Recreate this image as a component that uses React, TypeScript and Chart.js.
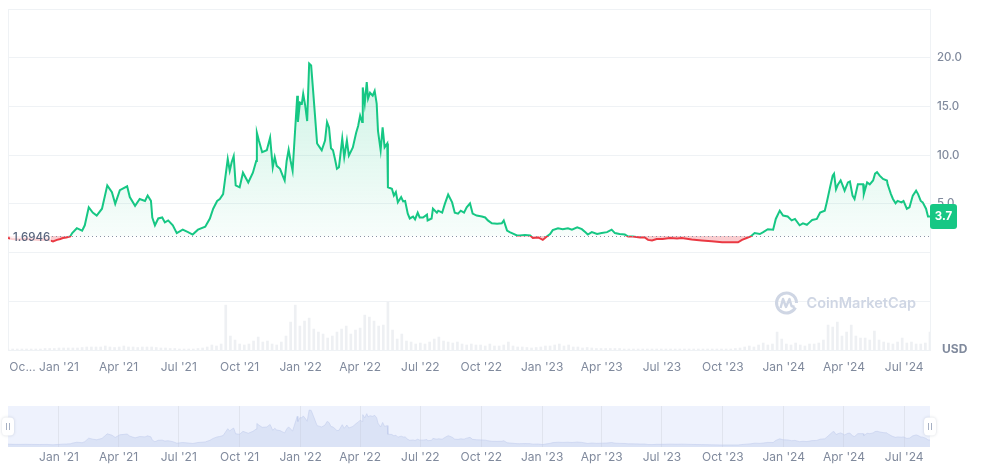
import { useEffect, useRef } from 'react';
import { Chart, registerables } from 'chart.js';

Chart.register(...registerables);

// ---------------- data ----------------
const START_DATE = '2020-10-16'; // day 0 of the series
const BASE_PRICE = 1.6946; // opening price of the period (reference line)
const CURRENCY = 'USD';
const BRAND = 'CoinMarketCap';

// [day offset from START_DATE, price in USD]
const pricePoints: [number, number][] = [
  [0, 1.5], [6, 1.4], [15, 1.35], [26, 1.4], [36, 1.35], [48, 1.3], [59, 1.35], [68, 1.15], [74, 1.3],
  [79, 1.4], [83, 1.5], [88, 1.55], [94, 1.65], [97, 2.0], [104, 2.5], [112, 2.25], [116, 2.8],
  [122, 4.65], [128, 4.1], [134, 3.8], [142, 4.5], [150, 6.9], [157, 6.2], [162, 5.0], [169, 6.4],
  [180, 6.8], [184, 5.7], [192, 4.8], [199, 5.5], [207, 5.3], [211, 5.85], [216, 5.3], [218, 3.6],
  [222, 2.8], [227, 3.5], [233, 3.6], [237, 3.1], [242, 3.3], [249, 2.8], [255, 2.0], [264, 2.35],
  [272, 2.1], [279, 1.85], [287, 2.35], [298, 2.65], [305, 3.5], [310, 4.5], [316, 5.3], [320, 5.5],
  [325, 6.0], [332, 9.6], [335, 8.4], [338, 9.3], [341, 9.9], [344, 6.9], [350, 6.7], [355, 8.2],
  [363, 7.2], [370, 8.2], [375, 9.4], [376, 12.3], [379, 11.5], [384, 10.3], [391, 10.5], [396, 11.8],
  [400, 8.75], [403, 9.8], [406, 8.9], [411, 8.6], [415, 7.9], [418, 7.4], [421, 9.4], [424, 10.55],
  [427, 9.4], [430, 8.4], [437, 16.1], [438, 13.4], [441, 15.4], [444, 15.3], [446, 16.3], [449, 15.1],
  [452, 13.5], [455, 19.4], [458, 19.2], [461, 16.6], [464, 13.9], [467, 11.2], [471, 10.8], [474, 10.5],
  [479, 11.5], [482, 13.4], [485, 12.85], [488, 10.7], [491, 10.5], [494, 9.6], [497, 8.6], [500, 8.75],
  [505, 11.7], [508, 9.8], [512, 11.5], [515, 9.95], [521, 10.8], [526, 12.3], [529, 13.0], [532, 14.05],
  [535, 13.4], [536, 16.95], [539, 15.3], [542, 17.5], [544, 15.8], [547, 16.4], [551, 16.1], [554, 16.6],
  [557, 15.3], [559, 12.5], [563, 10.5], [566, 12.85], [569, 10.8], [573, 11.2], [574, 6.7], [580, 6.55],
  [583, 5.85], [586, 6.2], [589, 5.15], [594, 5.7], [597, 5.25], [600, 5.3], [604, 4.0], [607, 3.5],
  [612, 3.7], [615, 3.4], [619, 4.1], [622, 3.6], [627, 3.6], [633, 3.9], [634, 3.3], [640, 3.5],
  [642, 4.5], [648, 4.1], [650, 4.3], [656, 4.1], [660, 5.0], [665, 5.95], [671, 5.15], [675, 4.1],
  [680, 4.0], [684, 4.3], [689, 4.1], [693, 4.65], [698, 5.05], [702, 4.0], [708, 3.8], [716, 3.7],
  [721, 3.6], [725, 3.3], [731, 3.0], [739, 2.95], [746, 3.0], [749, 3.3], [754, 2.25], [758, 2.1],
  [763, 1.95], [769, 1.75], [773, 1.75], [781, 1.8], [789, 1.75], [793, 1.5], [801, 1.55], [808, 1.3],
  [814, 1.65], [819, 1.9], [823, 2.3], [831, 2.5], [838, 2.4], [846, 2.5], [852, 2.35], [860, 2.6],
  [867, 2.4], [872, 2.1], [876, 1.85], [882, 2.1], [890, 1.9], [897, 2.0], [905, 2.1], [912, 2.35],
  [917, 2.0], [924, 1.9], [932, 1.85], [937, 1.65], [944, 1.65], [955, 1.55], [962, 1.55], [967, 1.3],
  [973, 1.25], [980, 1.4], [989, 1.4], [1000, 1.5], [1011, 1.45], [1018, 1.5], [1033, 1.35], [1048, 1.25],
  [1063, 1.15], [1079, 1.05], [1094, 1.05], [1103, 1.05], [1109, 1.3], [1116, 1.5], [1122, 1.65],
  [1128, 2.0], [1136, 1.9], [1141, 2.1], [1148, 2.4], [1156, 2.35], [1160, 3.45], [1166, 4.3], [1171, 3.8],
  [1178, 3.7], [1184, 3.3], [1189, 3.45], [1196, 2.8], [1201, 3.0], [1207, 2.85], [1211, 3.1], [1215, 3.35],
  [1222, 3.45], [1227, 4.1], [1234, 4.3], [1237, 5.15], [1242, 6.7], [1246, 7.9], [1248, 8.1], [1251, 6.5],
  [1254, 7.0], [1258, 7.4], [1261, 6.9], [1264, 6.35], [1269, 7.2], [1272, 7.3], [1276, 5.85], [1279, 5.5],
  [1284, 7.0], [1292, 7.0], [1293, 6.0], [1298, 7.2], [1302, 7.0], [1307, 7.4], [1310, 8.1], [1313, 8.25],
  [1317, 7.9], [1322, 7.55], [1328, 7.4], [1329, 7.0], [1334, 6.0], [1337, 5.5], [1341, 5.05], [1344, 5.3],
  [1350, 5.15], [1353, 5.3], [1358, 4.5], [1362, 4.65], [1367, 5.85], [1372, 6.35], [1375, 6.0], [1379, 5.3],
  [1382, 5.15], [1387, 4.5], [1390, 3.7], [1393, 3.7],
];

// weekly trading volume (million USD), one value per week from START_DATE
const VOLUME_STEP_DAYS = 7;
const volumes: number[] = [
  20, 20, 20, 20, 20, 20, 20, 20, 30, 30, 30, 40, 40, 40, 40, 40, 50, 60, 60, 60,
  60, 80, 60, 50, 60, 80, 60, 60, 50, 60, 60, 60, 50, 40, 40, 30, 30, 20, 20, 20,
  20, 30, 40, 60, 100, 80, 120, 900, 280, 200, 120, 100, 120, 180, 260, 160, 180, 120, 100, 160,
  280, 560, 900, 480, 580, 640, 420, 360, 320, 240, 280, 360, 420, 480, 320, 400, 440, 700, 660, 580,
  480, 500, 960, 400, 220, 320, 180, 160, 120, 140, 120, 160, 220, 260, 180, 160, 140, 160, 120, 100,
  120, 100, 100, 80, 120, 80, 80, 100, 160, 80, 60, 60, 50, 40, 50, 60, 80, 80, 100, 120,
  80, 100, 60, 60, 40, 50, 40, 30, 30, 30, 30, 30, 30, 20, 20, 20, 20, 20, 20, 20,
  20, 20, 20, 20, 20, 20, 20, 20, 20, 20, 20, 20, 20, 20, 20, 20, 20, 30, 40, 60,
  80, 60, 100, 140, 100, 120, 360, 220, 120, 100, 140, 100, 80, 120, 120, 140, 200, 500, 460, 560,
  280, 360, 500, 280, 240, 240, 200, 380, 200, 160, 140, 120, 160, 240, 140, 160, 120, 120, 140, 360,
];

const tickDates = [
  '2021-01-01', '2021-04-01', '2021-07-01', '2021-10-01', '2022-01-01', '2022-04-01', '2022-07-01',
  '2022-10-01', '2023-01-01', '2023-04-01', '2023-07-01', '2023-10-01', '2024-01-01', '2024-04-01',
  '2024-07-01',
];
const tickLabels = [
  "Jan '21", "Apr '21", "Jul '21", "Oct '21", "Jan '22", "Apr '22", "Jul '22", "Oct '22",
  "Jan '23", "Apr '23", "Jul '23", "Oct '23", "Jan '24", "Apr '24", "Jul '24",
];
const FIRST_LABEL = 'Oc...';
const FIRST_LABEL_DATE = '2020-11-07';

// ---------------- styling ----------------
const GREEN = '#16c784';
const RED = '#ea3943';
const GRID = '#eff2f5';
const TEXT = '#808a9d';
const FONT = "Inter, 'Noto Sans', sans-serif";

function dayOf(date: string) {
  return Math.round((Date.parse(date) - Date.parse(START_DATE)) / 86400000);
}

const noPadY = (s: any) => {
  s.paddingTop = 0;
  s.paddingBottom = 0;
};
const noPadX = (s: any) => {
  s.paddingLeft = 0;
  s.paddingRight = 0;
};

export default function App() {
  const mainRef = useRef<HTMLCanvasElement>(null);
  const navRef = useRef<HTMLCanvasElement>(null);

  useEffect(() => {
    Chart.defaults.font.family = FONT;
    const lastDay = pricePoints[pricePoints.length - 1][0];
    const lastPrice = pricePoints[pricePoints.length - 1][1];
    const tickDays = tickDates.map(dayOf);
    const mainTickDays = [dayOf(FIRST_LABEL_DATE), ...tickDays];
    const mainTickLabels = [FIRST_LABEL, ...tickLabels];
    const priceData = pricePoints.map(([x, y]) => ({ x, y }));
    const volumeData = volumes.map((v, i) => ({ x: i * VOLUME_STEP_DAYS, y: v }));

    const lineColor = (ctx: any) => {
      const chart = ctx.chart;
      const area = chart.chartArea;
      if (!area) return GREEN;
      const yb = chart.scales.y.getPixelForValue(BASE_PRICE);
      const f = Math.min(1, Math.max(0, (yb - area.top) / (area.bottom - area.top)));
      const g = chart.ctx.createLinearGradient(0, area.top, 0, area.bottom);
      g.addColorStop(0, GREEN);
      g.addColorStop(f, GREEN);
      g.addColorStop(f, RED);
      g.addColorStop(1, RED);
      return g;
    };
    const fillColor = (ctx: any) => {
      const chart = ctx.chart;
      const area = chart.chartArea;
      if (!area) return 'rgba(22,199,132,0.15)';
      const yb = chart.scales.y.getPixelForValue(BASE_PRICE);
      const g = chart.ctx.createLinearGradient(0, area.top, 0, yb);
      g.addColorStop(0, 'rgba(22,199,132,0.28)');
      g.addColorStop(1, 'rgba(22,199,132,0.03)');
      return g;
    };

    const mainPlugin = {
      id: 'mainDecor',
      beforeDatasetsDraw(chart: any) {
        const { ctx, chartArea: a } = chart;
        ctx.save();
        // left border
        ctx.strokeStyle = GRID;
        ctx.lineWidth = 1;
        ctx.beginPath();
        ctx.moveTo(a.left + 0.5, a.top);
        ctx.lineTo(a.left + 0.5, a.bottom);
        ctx.stroke();
        // watermark
        const wm = '#cfd6e4';
        const cx = a.right - 143.5;
        const cy = a.bottom - 47;
        ctx.strokeStyle = wm;
        ctx.lineWidth = 3;
        ctx.beginPath();
        ctx.arc(cx, cy, 10, Math.PI * 0.15, Math.PI * 2.0);
        ctx.stroke();
        ctx.lineWidth = 2.4;
        ctx.lineJoin = 'round';
        ctx.beginPath();
        ctx.moveTo(cx - 6, cy + 5);
        ctx.lineTo(cx - 3.5, cy - 4);
        ctx.lineTo(cx - 0.5, cy + 4);
        ctx.lineTo(cx + 3, cy - 4);
        ctx.lineTo(cx + 5, cy + 3);
        ctx.lineTo(cx + 8, cy + 4);
        ctx.stroke();
        ctx.fillStyle = wm;
        ctx.font = `600 14.5px ${FONT}`;
        ctx.textAlign = 'left';
        ctx.textBaseline = 'middle';
        ctx.fillText(BRAND, cx + 20, cy + 1);
        ctx.restore();
      },
      afterDatasetsDraw(chart: any) {
        const { ctx, chartArea: a } = chart;
        const yb = Math.round(chart.scales.y.getPixelForValue(BASE_PRICE)) + 0.5;
        ctx.save();
        ctx.strokeStyle = '#8a93a5';
        ctx.lineWidth = 1;
        ctx.setLineDash([1, 3]);
        ctx.beginPath();
        ctx.moveTo(a.left + 44, yb);
        ctx.lineTo(a.right, yb);
        ctx.stroke();
        ctx.restore();
      },
      afterDraw(chart: any) {
        const { ctx, chartArea: a } = chart;
        const yb = chart.scales.y.getPixelForValue(BASE_PRICE);
        ctx.save();
        // base price label
        ctx.fillStyle = 'rgba(255,255,255,0.75)';
        ctx.fillRect(a.left + 2, yb - 8, 41, 16);
        ctx.fillStyle = '#58667e';
        ctx.font = `500 11.5px ${FONT}`;
        ctx.textAlign = 'left';
        ctx.textBaseline = 'middle';
        ctx.fillText(String(BASE_PRICE), a.left + 5, yb + 1);
        // last price badge
        const yl = chart.scales.y.getPixelForValue(lastPrice);
        const bx = a.right;
        const bw = 27;
        const bh = 25;
        ctx.fillStyle = GREEN;
        ctx.beginPath();
        (ctx as any).roundRect(bx, yl - bh / 2, bw, bh, 3);
        ctx.fill();
        ctx.fillStyle = '#ffffff';
        ctx.font = `700 11.5px ${FONT}`;
        ctx.textAlign = 'center';
        ctx.fillText(lastPrice.toFixed(1), bx + bw / 2, yl + 0.5);
        // currency
        ctx.fillStyle = TEXT;
        ctx.font = `700 12px ${FONT}`;
        ctx.textAlign = 'left';
        ctx.fillText(CURRENCY, a.right + 12, a.bottom - 1);
        ctx.restore();
      },
    };

    const main = new Chart(mainRef.current!, {
      type: 'line',
      data: {
        datasets: [
          {
            type: 'line',
            data: priceData,
            yAxisID: 'y',
            borderWidth: 2,
            pointRadius: 0,
            tension: 0,
            borderColor: lineColor,
            backgroundColor: fillColor,
            fill: { target: { value: BASE_PRICE }, below: 'rgba(234,57,67,0.25)' } as any,
            order: 1,
          } as any,
          {
            type: 'bar',
            data: volumeData,
            yAxisID: 'y1',
            backgroundColor: '#eef0f3',
            barThickness: 2,
            order: 2,
          } as any,
        ],
      },
      options: {
        responsive: false,
        animation: false,
        events: [],
        layout: { padding: { left: 8, top: 9, right: 0, bottom: 0 } },
        plugins: { legend: { display: false }, tooltip: { enabled: false } },
        scales: {
          x: {
            type: 'linear',
            offset: false,
            min: 0,
            max: lastDay,
            afterBuildTicks: (s: any) => {
              s.ticks = mainTickDays.map((v) => ({ value: v }));
            },
            afterFit: (s: any) => {
              s.height = 40;
              noPadX(s);
            },
            grid: { display: false },
            border: { display: false },
            ticks: {
              autoSkip: false,
              maxRotation: 0,
              color: TEXT,
              font: { size: 12 },
              padding: 2,
              callback: (_v: any, i: number) => mainTickLabels[i],
            },
          },
          y: {
            position: 'right',
            min: -10,
            max: 25,
            afterFit: (s: any) => {
              s.width = 65;
              noPadY(s);
            },
            grid: { color: GRID, drawTicks: false },
            border: { display: true, color: GRID },
            ticks: {
              stepSize: 5,
              color: TEXT,
              font: { size: 11.5, weight: '500' as any },
              padding: 7,
              callback: (v: any) => (v >= 5 && v <= 20 ? Number(v).toFixed(1) : ''),
            },
          },
          y1: { display: false, min: 0, max: 6840 },
        },
      } as any,
      plugins: [mainPlugin],
    });

    const navPlugin = {
      id: 'navDecor',
      beforeDraw(chart: any) {
        const { ctx, chartArea: a } = chart;
        ctx.save();
        ctx.fillStyle = '#eef2fd';
        ctx.fillRect(a.left, a.top, a.right - a.left, a.bottom - a.top);
        ctx.restore();
      },
      afterDraw(chart: any) {
        const { ctx, chartArea: a } = chart;
        const cy = (a.top + a.bottom) / 2;
        ctx.save();
        for (const cx of [a.left, a.right]) {
          ctx.shadowColor = 'rgba(88,102,126,0.25)';
          ctx.shadowBlur = 3;
          ctx.fillStyle = '#ffffff';
          ctx.beginPath();
          (ctx as any).roundRect(cx - 6, cy - 9, 12, 18, 4);
          ctx.fill();
          ctx.shadowBlur = 0;
          ctx.shadowColor = 'transparent';
          ctx.strokeStyle = '#a6b0c3';
          ctx.lineWidth = 1;
          ctx.beginPath();
          ctx.moveTo(cx - 1.5, cy - 3.5);
          ctx.lineTo(cx - 1.5, cy + 3.5);
          ctx.moveTo(cx + 1.5, cy - 3.5);
          ctx.lineTo(cx + 1.5, cy + 3.5);
          ctx.stroke();
        }
        ctx.restore();
      },
    };

    const nav = new Chart(navRef.current!, {
      type: 'line',
      data: {
        datasets: [
          {
            data: priceData,
            borderWidth: 1,
            pointRadius: 0,
            tension: 0,
            borderColor: 'rgba(190,202,235,0.5)',
            backgroundColor: 'rgba(190,202,235,0.38)',
            fill: 'origin',
          },
        ],
      },
      options: {
        responsive: false,
        animation: false,
        events: [],
        layout: { padding: { left: 8, top: 16, right: 65, bottom: 0 } },
        plugins: { legend: { display: false }, tooltip: { enabled: false } },
        scales: {
          x: {
            type: 'linear',
            offset: false,
            min: 0,
            max: lastDay,
            afterBuildTicks: (s: any) => {
              s.ticks = tickDays.map((v) => ({ value: v }));
            },
            afterFit: (s: any) => {
              s.height = 23;
              noPadX(s);
            },
            grid: { color: '#e0e4ee', drawTicks: false },
            border: { display: false },
            ticks: {
              autoSkip: false,
              maxRotation: 0,
              color: TEXT,
              font: { size: 12 },
              padding: 3,
              callback: (_v: any, i: number) => tickLabels[i],
            },
          },
          y: { display: false, min: 0, max: 21.5 },
        },
      } as any,
      plugins: [navPlugin],
    });

    return () => {
      main.destroy();
      nav.destroy();
    };
  }, []);

  return (
    <div style={{ position: 'fixed', left: 0, top: 0, width: 995, height: 470, background: '#ffffff' }}>
      <canvas
        ref={mainRef}
        width={995}
        height={390}
        style={{ position: 'absolute', left: 0, top: 0, width: 995, height: 390 }}
      />
      <canvas
        ref={navRef}
        width={995}
        height={80}
        style={{ position: 'absolute', left: 0, top: 390, width: 995, height: 80 }}
      />
    </div>
  );
}
